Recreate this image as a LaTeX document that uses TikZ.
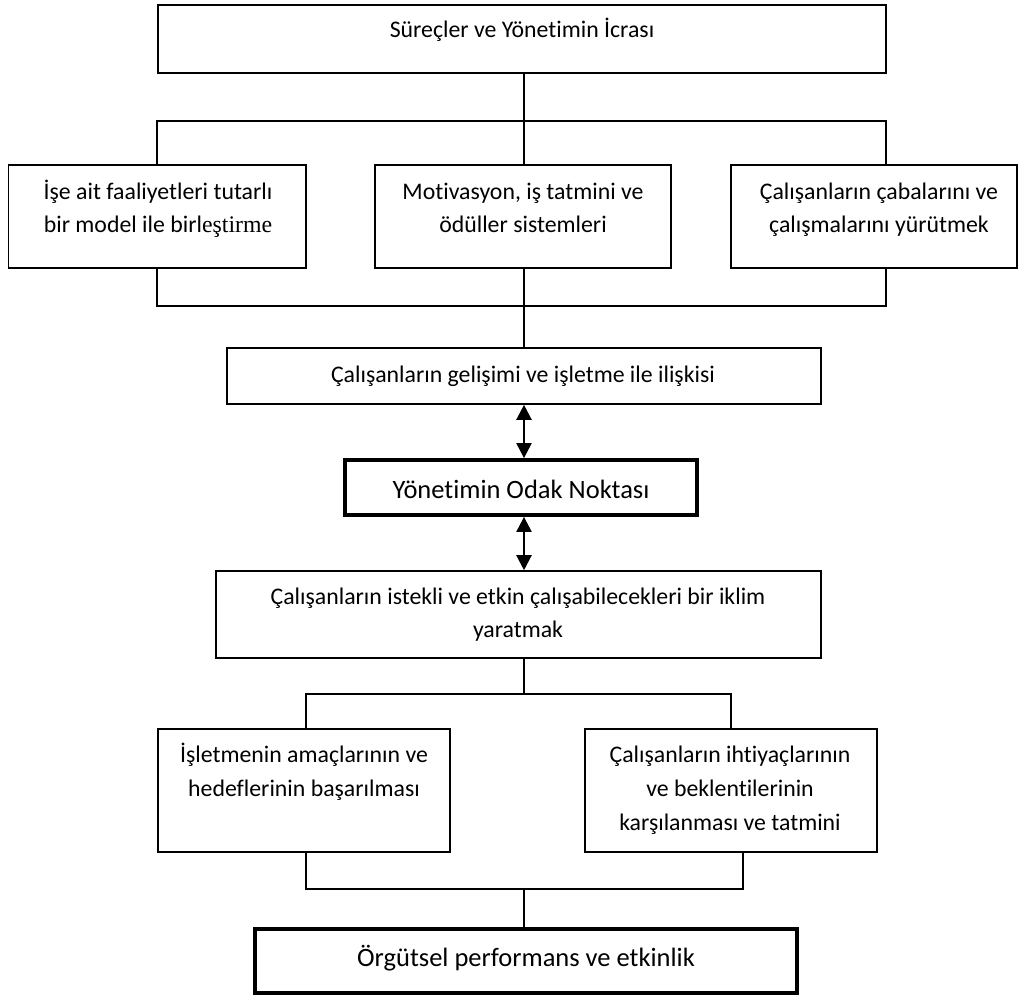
\documentclass[tikz,border=0pt]{standalone}
\usepackage{fontspec}
\setmainfont{Carlito}[Ligatures=NoCommon]
\newfontfamily\serifpart{Liberation Serif}
\usetikzlibrary{fit,arrows.meta}

\tikzset{
  box/.style={draw, line width=1.6pt, inner sep=0pt},
  keybox/.style={draw, line width=3.8pt, inner sep=0pt},
  txt/.style={anchor=base, inner sep=0pt, font=\fontsize{23.8}{33}\selectfont},
  bigtxt/.style={anchor=base, inner sep=0pt, font=\fontsize{26.5}{33}\selectfont},
  link/.style={line width=1.6pt, line join=miter, line cap=rect},
  dbl/.style={line width=2.2pt,
    {Triangle[length=15pt,width=15pt]}-{Triangle[length=15pt,width=15pt]}}
}

\begin{document}
\begin{tikzpicture}[x=1pt, y=-1pt]
\useasboundingbox (0,0) rectangle (1019,999);

% --- boxes ---
\node[box, fit={(158,5) (886,73)}] (head) {};
\node[box, fit={(8.4,165) (306,268)}] (b1) {};
\node[box, fit={(375,165) (671,268)}] (b2) {};
\node[box, fit={(731,165) (1017,268)}] (b3) {};
\node[box, fit={(227,348) (821,404)}] (dev) {};
\node[keybox, fit={(345,460) (697,515)}] (focus) {};
\node[box, fit={(216,571) (821,658)}] (climate) {};
\node[box, fit={(158,729) (450,852)}] (goals) {};
\node[box, fit={(585,729) (877,852)}] (needs) {};
\node[keybox, fit={(255,929) (797,993)}] (perf) {};

% --- junction points ---
\coordinate (jtop) at (524,121);
\coordinate (jl) at (157,121);
\coordinate (jr) at (886,121);
\coordinate (kl) at (157,306);
\coordinate (kr) at (886,306);
\coordinate (kmid) at (524,306);
\coordinate (mtop) at (524,694);
\coordinate (ml) at (306,694);
\coordinate (mr) at (731,694);
\coordinate (nl) at (306,889);
\coordinate (nr) at (743,889);
\coordinate (nmid) at (524,889);

% --- connectors ---
\draw[link] (jtop |- head.south) -- (jtop);
\draw[link] (jl |- b1.north) -- (jl) -- (jr) -- (jr |- b3.north);
\draw[link] (jtop) -- (jtop |- b2.north);
\draw[link] (kl |- b1.south) -- (kl) -- (kr) -- (kr |- b3.south);
\draw[link] (kmid |- b2.south) -- (kmid);
\draw[link] (kmid) -- (kmid |- dev.north);
\draw[dbl] (kmid |- dev.south) -- (kmid |- focus.north);
\draw[dbl] (kmid |- focus.south) -- (kmid |- climate.north);
\draw[link] (mtop |- climate.south) -- (mtop);
\draw[link] (ml |- goals.north) -- (ml) -- (mr) -- (mr |- needs.north);
\draw[link] (nl |- goals.south) -- (nl) -- (nr) -- (nr |- needs.south);
\draw[link] (nmid) -- (nmid |- perf.north);

% --- labels ---
\node[txt] (t0) at (522,37) {Süreçler ve Yönetimin İcrası};
\node[txt] (t1a) at (158,199) {İşe ait faaliyetleri tutarlı};
\node[txt] (t1b) at (158,232) {bir model ile birl{\serifpart eştirme}};
\node[txt] (t2a) at (523,199) {Motivasyon, iş tatmini ve};
\node[txt] (t2b) at (523,232) {ödüller sistemleri};
\node[txt] (t3a) at (879,199) {Çalışanların çabalarını ve};
\node[txt] (t3b) at (879,232) {çalışmalarını yürütmek};
\node[txt] (t4) at (523,382) {Çalışanların gelişimi ve işletme ile ilişkisi};
\node[bigtxt] (t5) at (521,498) {Yönetimin Odak Noktası};
\node[txt] (t6a) at (518,604) {Çalışanların istekli ve etkin çalışabilecekleri bir iklim};
\node[txt] (t6b) at (518,637) {yaratmak};
\node[txt] (t7a) at (304,762) {İşletmenin amaçlarının ve};
\node[txt] (t7b) at (304,796) {hedeflerinin başarılması};
\node[txt] (t8a) at (730,762) {Çalışanların ihtiyaçlarının};
\node[txt] (t8b) at (730,796) {ve beklentilerinin};
\node[txt] (t8c) at (730,830) {karşılanması ve tatmini};
\node[bigtxt] (t9) at (526,966) {Örgütsel performans ve etkinlik};
\end{tikzpicture}
\end{document}
